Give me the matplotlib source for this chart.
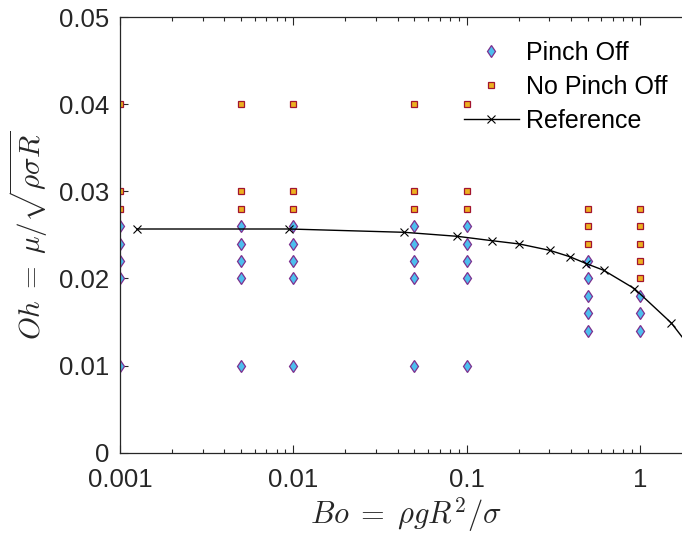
import matplotlib.pyplot as plt
import numpy as np

plt.rcParams["font.family"] = ["Liberation Sans", "DejaVu Sans"]
plt.rcParams["mathtext.fontset"] = "cm"

# Pinch off cases (Bo, Oh)
pinch_bo = [0.001] * 5 + [0.005] * 5 + [0.01] * 5 + [0.05] * 5 + [0.1] * 5 + [0.5] * 5 + [1] * 3
pinch_oh = ([0.01, 0.02, 0.022, 0.024, 0.026] * 5
            + [0.014, 0.016, 0.018, 0.02, 0.022]
            + [0.014, 0.016, 0.018])

# No pinch off cases
nopinch_bo = [0.001] * 3 + [0.005] * 3 + [0.01] * 3 + [0.05] * 3 + [0.1] * 3 + [0.5] * 3 + [1] * 5
nopinch_oh = ([0.028, 0.03, 0.04] * 5
              + [0.024, 0.026, 0.028]
              + [0.02, 0.022, 0.024, 0.026, 0.028])

# Reference curve
ref_bo = [0.00125, 0.0095, 0.0438, 0.0884, 0.140, 0.202, 0.302, 0.394, 0.492, 0.619, 0.931, 1.52, 2.0]
ref_oh = [0.02567, 0.02567, 0.02529, 0.02483, 0.02433, 0.02395, 0.02322, 0.02249, 0.02169, 0.02093, 0.01882, 0.01488, 0.0118]

fg = "#262626"

fig = plt.figure(figsize=(6.82, 5.33), dpi=100)
ax = fig.add_axes([0.176, 0.1507, 0.8387, 0.8174])

ax.plot(pinch_bo, pinch_oh, ls="none", marker="d", ms=6.0, mfc="#4DBEEE",
        mec="#7E2F8E", mew=0.9, label="Pinch Off")
ax.plot(nopinch_bo, nopinch_oh, ls="none", marker="s", ms=4.5, mfc="#EDB120",
        mec="#A2142F", mew=0.9, label="No Pinch Off")
ax.plot(ref_bo, ref_oh, color="black", lw=1.0, marker="x", ms=5.5, mew=0.8,
        label="Reference")

ax.set_xscale("log")
ax.set_xlim(0.001, 2.0)
ax.set_ylim(0, 0.05)
ax.set_xticks([0.001, 0.01, 0.1, 1])
ax.set_xticklabels(["0.001", "0.01", "0.1", "1"])
ax.set_yticks([0, 0.01, 0.02, 0.03, 0.04, 0.05])
ax.set_yticklabels(["0", "0.01", "0.02", "0.03", "0.04", "0.05"])

ax.tick_params(which="both", direction="in", top=True, right=True, colors=fg,
               labelsize=18.5, width=0.8)
ax.tick_params(axis="x", which="major", length=6, pad=11)
ax.tick_params(axis="y", which="major", length=6, pad=8)
ax.tick_params(which="minor", length=3)
for s in ax.spines.values():
    s.set_color(fg)
    s.set_linewidth(0.9)

ax.set_xlabel(r"$Bo\;=\;\rho g R^2/\sigma$", fontsize=22, color=fg, labelpad=2)
ax.set_ylabel(r"$Oh\;=\;\mu/\sqrt{\rho \sigma R}$", fontsize=21, color=fg, labelpad=6)

leg = ax.legend(loc="upper right", bbox_to_anchor=(0.975, 0.968), frameon=False,
                fontsize=18, handlelength=2.2, handletextpad=0.3, labelspacing=0.4,
                borderaxespad=0)
for t in leg.get_texts():
    t.set_color("black")

fig.savefig("out.png", dpi=100)
